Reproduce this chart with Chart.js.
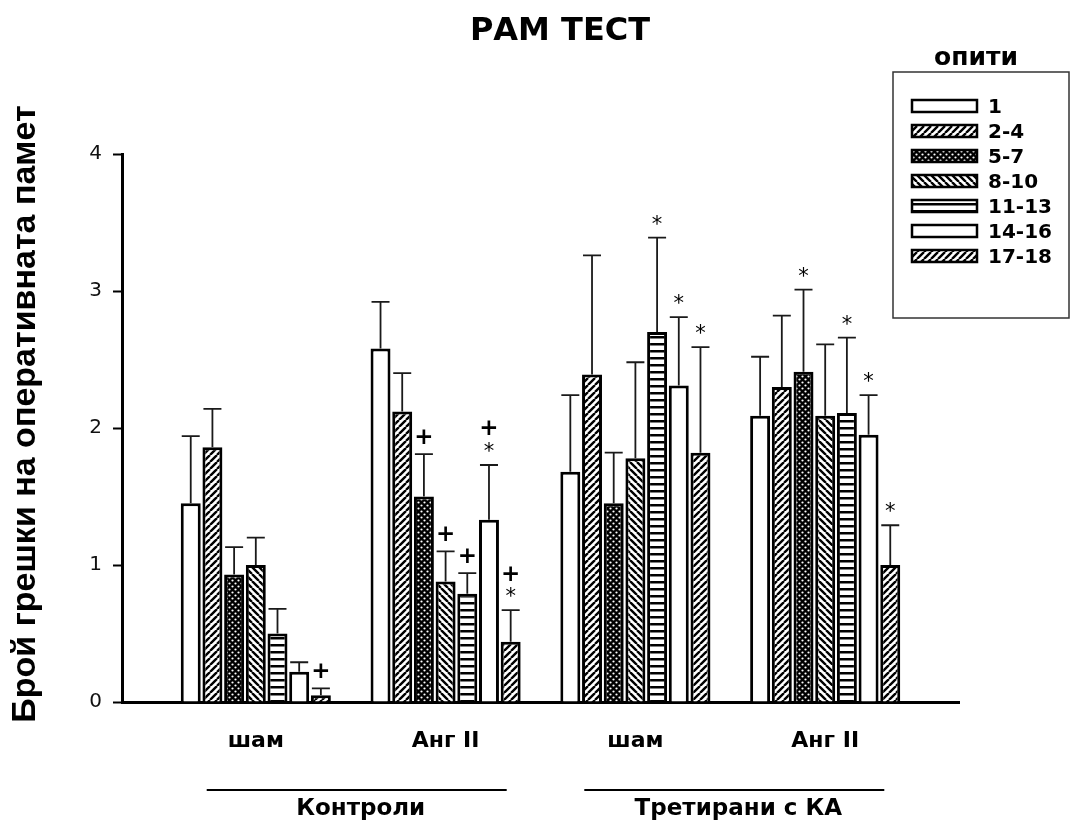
<!DOCTYPE html>
<html>
<head>
<meta charset="utf-8">
<script src="https://cdn.jsdelivr.net/npm/chart.js@4.4.1/dist/chart.umd.min.js"></script>
<style>html,body{margin:0;padding:0;background:#fff}canvas{display:block}</style>
</head>
<body>
<canvas id="c" width="1076" height="820"></canvas>
<script>
// ---------- data ----------
const chartTitle = 'РАМ ТЕСТ';
const yTitle = 'Брой грешки на оперативната памет';
const legendTitle = 'опити';
const categories = ['шам', 'Анг II', 'шам', 'Анг II'];
const groupNames = ['Контроли', 'Третирани с КА'];
const yTicks = [0, 1, 2, 3, 4];
const seriesNames = ['1', '2-4', '5-7', '8-10', '11-13', '14-16', '17-18'];

// mean values per series (one per category)
const s1  = [1.45, 2.58, 1.68, 2.09];
const s2  = [1.86, 2.12, 2.39, 2.30];
const s3  = [0.93, 1.50, 1.45, 2.41];
const s4  = [1.00, 0.88, 1.78, 2.09];
const s5  = [0.50, 0.79, 2.70, 2.11];
const s6  = [0.22, 1.33, 2.31, 1.95];
const s7  = [0.05, 0.44, 1.82, 1.00];

// error (upper) per series
const e1  = [0.49, 0.34, 0.56, 0.43];
const e2  = [0.28, 0.28, 0.87, 0.52];
const e3  = [0.20, 0.31, 0.37, 0.60];
const e4  = [0.20, 0.22, 0.70, 0.52];
const e5  = [0.18, 0.15, 0.69, 0.55];
const e6  = [0.07, 0.40, 0.50, 0.29];
const e7  = [0.05, 0.23, 0.77, 0.29];

// significance markers per series (top to bottom)
const m1  = ['', '', '', ''];
const m2  = ['', '', '', ''];
const m3  = ['', '+', '', '*'];
const m4  = ['', '+', '', ''];
const m5  = ['', '+', '*', '*'];
const m6  = ['', '+*', '*', '*'];
const m7  = ['+', '+*', '*', '*'];

const seriesValues = [s1, s2, s3, s4, s5, s6, s7];
const seriesErrors = [e1, e2, e3, e4, e5, e6, e7];
const seriesMarks  = [m1, m2, m3, m4, m5, m6, m7];

// ---------- patterns ----------
const canvas = document.getElementById('c');
const mainCtx = canvas.getContext('2d');
function tile(w, h, draw) {
  const t = document.createElement('canvas');
  t.width = w; t.height = h;
  const g = t.getContext('2d');
  draw(g, w, h);
  return mainCtx.createPattern(t, 'repeat');
}
function hatch(dir) {
  return tile(7, 7, (g, s) => {
    g.fillStyle = '#fff'; g.fillRect(0, 0, s, s);
    g.strokeStyle = '#000'; g.lineWidth = 2.4; g.beginPath();
    for (const k of [-s, 0, s]) {
      if (dir === 'fwd') { g.moveTo(k, s); g.lineTo(k + s, 0); }
      else { g.moveTo(k, 0); g.lineTo(k + s, s); }
    }
    g.stroke();
  });
}
const dots = tile(6, 6, (g, s) => {
  g.fillStyle = '#000'; g.fillRect(0, 0, s, s);
  g.fillStyle = '#fff';
  g.beginPath(); g.arc(1.5, 1.5, 1.1, 0, Math.PI * 2); g.fill();
  g.beginPath(); g.arc(4.5, 4.5, 1.1, 0, Math.PI * 2); g.fill();
});
const hlines = tile(4, 7, (g, w, h) => {
  g.fillStyle = '#fff'; g.fillRect(0, 0, w, h);
  g.fillStyle = '#000'; g.fillRect(0, 0, w, 2.5);
});
const fills = ['#ffffff', hatch('fwd'), dots, hatch('back'), hlines, '#ffffff', hatch('fwd')];

// ---------- plugins ----------
const bgPlugin = {
  id: 'bg',
  beforeDraw(chart) {
    const ctx = chart.ctx;
    ctx.save(); ctx.fillStyle = '#fff'; ctx.fillRect(0, 0, chart.width, chart.height); ctx.restore();
  }
};

function centeredText(ctx, txt, x, yc) {
  const m = ctx.measureText(txt);
  ctx.fillText(txt, x, yc + (m.actualBoundingBoxAscent - m.actualBoundingBoxDescent) / 2);
}

const errPlugin = {
  id: 'errs',
  afterDatasetsDraw(chart) {
    const ctx = chart.ctx, ys = chart.scales.y;
    ctx.save();
    chart.data.datasets.forEach((ds, i) => {
      const meta = chart.getDatasetMeta(i);
      meta.data.forEach((el, j) => {
        const v = seriesValues[i][j], e = seriesErrors[i][j];
        const yCap = ys.getPixelForValue(v + e);
        ctx.strokeStyle = '#1a1a1a'; ctx.lineWidth = 1.8;
        ctx.beginPath();
        ctx.moveTo(el.x, el.y); ctx.lineTo(el.x, yCap);
        ctx.moveTo(el.x - 9, yCap); ctx.lineTo(el.x + 9, yCap);
        ctx.stroke();
        const mk = seriesMarks[i][j];
        if (mk) {
          ctx.fillStyle = '#000'; ctx.textAlign = 'center'; ctx.textBaseline = 'alphabetic';
          const chars = mk.split('');
          for (let k = chars.length - 1, n = 0; k >= 0; k--, n++) {
            const c = chars[k];
            ctx.font = c === '+' ? 'bold 23px "DejaVu Sans"' : '21px "DejaVu Sans"';
            centeredText(ctx, c, el.x, yCap - 18 - n * 19);
          }
        }
      });
    });
    ctx.restore();
  }
};

const textPlugin = {
  id: 'texts',
  afterDraw(chart) {
    const ctx = chart.ctx, xs = chart.scales.x;
    ctx.save();
    ctx.fillStyle = '#000';
    // main title
    ctx.font = 'bold 32px "DejaVu Sans"'; ctx.textAlign = 'center'; ctx.textBaseline = 'alphabetic';
    ctx.fillText(chartTitle, 560, 40);
    // y title
    ctx.save();
    ctx.translate(35, 414); ctx.rotate(-Math.PI / 2);
    ctx.font = 'bold 34px "Liberation Sans"'; ctx.textAlign = 'center';
    ctx.fillText(yTitle, 0, 0);
    ctx.restore();
    // group lines and names
    ctx.strokeStyle = '#000'; ctx.lineWidth = 2;
    groupNames.forEach((g, k) => {
      const mid = xs.getPixelForValue(2 * k + 0.5) + 6 - 2 * k;
      ctx.beginPath(); ctx.moveTo(mid - 150, 790); ctx.lineTo(mid + 150, 790); ctx.stroke();
      ctx.font = 'bold 23px "DejaVu Sans"'; ctx.textAlign = 'center';
      ctx.fillText(g, mid + 4, 815);
    });
    // legend
    const lx = 893, ly = 72, lw = 176, lh = 246;
    ctx.strokeStyle = '#333'; ctx.lineWidth = 1.5;
    ctx.strokeRect(lx, ly, lw, lh);
    ctx.font = 'bold 25px "DejaVu Sans"'; ctx.textAlign = 'center';
    ctx.fillText(legendTitle, 976, 65);
    chart.data.datasets.forEach((ds, i) => {
      const cy = 106 + i * 25;
      ctx.fillStyle = ds.backgroundColor;
      ctx.fillRect(912, cy - 6, 65, 12);
      ctx.strokeStyle = '#000'; ctx.lineWidth = 2.5;
      ctx.strokeRect(912, cy - 6, 65, 12);
      ctx.fillStyle = '#000';
      ctx.font = 'bold 20px "DejaVu Sans"'; ctx.textAlign = 'left';
      ctx.fillText(ds.label, 988, cy + 7.3);
    });
    ctx.restore();
  }
};

// ---------- chart ----------
new Chart(canvas, {
  type: 'bar',
  data: {
    datasets: seriesNames.map((name, i) => ({
      label: name,
      data: seriesValues[i].map((v, j) => ({ x: j, y: v })),
      backgroundColor: fills[i],
      borderColor: '#000',
      borderWidth: 3,
      categoryPercentage: 0.8,
      barPercentage: 0.92
    }))
  },
  options: {
    responsive: false,
    devicePixelRatio: 1,
    animation: false,
    layout: { padding: { top: 154, right: 117, left: 0, bottom: 0 } },
    plugins: { legend: { display: false }, title: { display: false }, tooltip: { enabled: false } },
    scales: {
      x: {
        type: 'linear',
        offset: false,
        min: -0.705, max: 3.705,
        afterBuildTicks: s => { s.ticks = categories.map((_, i) => ({ value: i })); },
        afterFit: s => { s.height = 118; },
        grid: { display: false, drawTicks: false, offset: false },
        border: { display: true, color: '#000', width: 3 },
        ticks: {
          callback: v => categories[v] ?? '',
          autoSkip: false, maxRotation: 0, minRotation: 0,
          padding: 26, color: '#000',
          font: { family: 'DejaVu Sans', size: 22, weight: 'bold' }
        }
      },
      y: {
        min: 0, max: 4,
        afterBuildTicks: s => { s.ticks = yTicks.map(v => ({ value: v })); },
        afterFit: s => { s.width = 122; },
        grid: { drawOnChartArea: false, drawTicks: true, tickLength: 9, tickWidth: 2, tickColor: '#000' },
        border: { display: true, color: '#000', width: 3 },
        ticks: { padding: 11, color: '#111', font: { family: 'DejaVu Sans', size: 20 } },
        title: { display: false }
      }
    }
  },
  plugins: [bgPlugin, errPlugin, textPlugin]
});
</script>
</body>
</html>
